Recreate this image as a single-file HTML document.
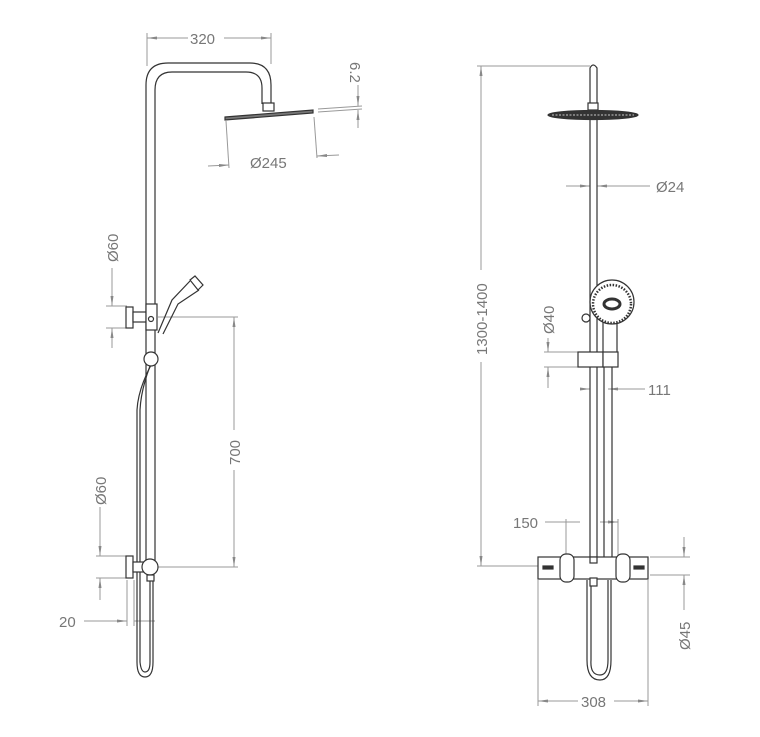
<!DOCTYPE html>
<html><head><style>body{margin:0;background:#fff}svg{display:block}text{font-family:"Liberation Sans",sans-serif;fill:#777;font-size:15px}</style></head>
<body>
<svg width="760" height="737" viewBox="0 0 760 737" xmlns="http://www.w3.org/2000/svg">
<defs><marker id="a" viewBox="0 0 10 6" refX="10" refY="3" markerWidth="10" markerHeight="6" orient="auto-start-reverse"><path d="M0,1.5L10,3L0,4.5z" fill="#888"/></marker></defs>
<g stroke="#999" stroke-width="1" fill="none">
<line x1="147" y1="33" x2="147" y2="66"/><line x1="271" y1="33" x2="271" y2="64"/>
<line x1="147" y1="38" x2="188" y2="38" marker-start="url(#a)"/><line x1="224" y1="38" x2="271" y2="38" marker-end="url(#a)"/>
<line x1="318" y1="109" x2="362" y2="106"/><line x1="318" y1="112" x2="362" y2="109"/>
<line x1="358" y1="85" x2="358" y2="106" marker-end="url(#a)"/><line x1="358" y1="128" x2="358" y2="110" marker-end="url(#a)"/>
<line x1="226" y1="121" x2="229" y2="168"/><line x1="314" y1="117" x2="317" y2="158"/>
<line x1="208" y1="166" x2="229" y2="165" marker-end="url(#a)"/><line x1="339" y1="155" x2="317" y2="156" marker-end="url(#a)"/>
<line x1="106" y1="306" x2="127" y2="306"/><line x1="106" y1="328" x2="127" y2="328"/>
<line x1="112" y1="268" x2="112" y2="306" marker-end="url(#a)"/><line x1="112" y1="348" x2="112" y2="328" marker-end="url(#a)"/>
<line x1="158" y1="317" x2="238" y2="317"/><line x1="158" y1="567" x2="238" y2="567"/>
<line x1="234" y1="430" x2="234" y2="317" marker-end="url(#a)"/><line x1="234" y1="470" x2="234" y2="567" marker-end="url(#a)"/>
<line x1="96" y1="556" x2="126" y2="556"/><line x1="96" y1="578" x2="126" y2="578"/>
<line x1="100" y1="507" x2="100" y2="556" marker-end="url(#a)"/><line x1="100" y1="600" x2="100" y2="578" marker-end="url(#a)"/>
<line x1="127" y1="580" x2="127" y2="626"/><line x1="134" y1="580" x2="134" y2="626"/>
<line x1="84" y1="621" x2="127" y2="621" marker-end="url(#a)"/><line x1="134" y1="621" x2="155" y2="621"/>
<line x1="477" y1="66" x2="590" y2="66"/><line x1="477" y1="566" x2="540" y2="566"/>
<line x1="481" y1="270" x2="481" y2="66" marker-end="url(#a)"/><line x1="481" y1="362" x2="481" y2="566" marker-end="url(#a)"/>
<line x1="566" y1="186" x2="590" y2="186" marker-end="url(#a)"/><line x1="650" y1="186" x2="597" y2="186" marker-end="url(#a)"/>
<line x1="544" y1="352" x2="580" y2="352"/><line x1="544" y1="367" x2="580" y2="367"/>
<line x1="548" y1="338" x2="548" y2="352" marker-end="url(#a)"/><line x1="548" y1="388" x2="548" y2="367" marker-end="url(#a)"/>
<line x1="580" y1="389" x2="590" y2="389" marker-end="url(#a)"/><line x1="645" y1="389" x2="608" y2="389" marker-end="url(#a)"/>
<line x1="566" y1="519" x2="566" y2="560"/><line x1="618" y1="519" x2="618" y2="560"/>
<line x1="545" y1="522" x2="580" y2="522"/><line x1="600" y1="522" x2="618" y2="522" marker-end="url(#a)"/>
<line x1="650" y1="557" x2="690" y2="557"/><line x1="650" y1="575" x2="690" y2="575"/>
<line x1="684" y1="537" x2="684" y2="557" marker-end="url(#a)"/><line x1="684" y1="610" x2="684" y2="575" marker-end="url(#a)"/>
<line x1="538" y1="580" x2="538" y2="706"/><line x1="648" y1="580" x2="648" y2="706"/>
<line x1="538" y1="701" x2="578" y2="701" marker-start="url(#a)"/><line x1="614" y1="701" x2="648" y2="701" marker-end="url(#a)"/>
</g>
<g fill="#777">
<text x="190" y="44">320</text>
<text transform="translate(350,62) rotate(90)">6.2</text>
<text x="250" y="168">Ø245</text>
<text transform="translate(118,262) rotate(-90)">Ø60</text>
<text transform="translate(240,465) rotate(-90)">700</text>
<text transform="translate(106,505) rotate(-90)">Ø60</text>
<text x="59" y="627">20</text>
<text transform="translate(487,355) rotate(-90)">1300-1400</text>
<text x="656" y="192">Ø24</text>
<text transform="translate(554,334) rotate(-90)">Ø40</text>
<text x="648" y="395">111</text>
<text x="513" y="528">150</text>
<text transform="translate(690,650) rotate(-90)">Ø45</text>
<text x="581" y="707">308</text>
</g>
<g stroke="#333" stroke-width="1.2" fill="#fff">
<path d="M146,570 V85 Q146,63 168,63 H250 Q271,63 271,85 V104" fill="none"/>
<path d="M155,570 V90 Q155,72 172,72 H246 Q262,72 262,88 V104" fill="none"/>
<rect x="263" y="103" width="11" height="8"/>
<path d="M225,117 L313,110 L313,113 L225,120 Z" fill="#777"/>
<path d="M151,365 Q138,390 137,410 V662 Q137,677 145,677 Q153,677 153,662 V580" fill="none"/>
<path d="M150,366 Q141,390 140,410 V662 Q141,672 145,672 Q150,672 150,662 V580" fill="none"/>
<path d="M158,333 L172,300 L190,281 M163,334 L178,304 L199,290" fill="none"/>
<path d="M190,280 L195,276 L203,285 L198,290 Z"/>
<rect x="126" y="307" width="7" height="21"/><rect x="133" y="312" width="13" height="10"/>
<rect x="146" y="304" width="11" height="26"/><circle cx="151" cy="319" r="2.5"/>
<circle cx="151" cy="359" r="7"/>
<rect x="126" y="556" width="7" height="22"/><rect x="133" y="562" width="12" height="10"/>
<circle cx="150" cy="567" r="8"/><rect x="147" y="575" width="7" height="6"/>
<path d="M590,570 V68 Q593,62 597,68 V570" fill="none"/>
<rect x="588" y="103" width="10" height="7"/>
<ellipse cx="593" cy="115" rx="45" ry="4.5" fill="#333"/>
<line x1="552" y1="115" x2="634" y2="115" stroke="#aaa" stroke-dasharray="2,1.5"/>
<path d="M604,320 V560 M612,320 V560 M608,580 V660 Q608,675 600,675 Q590,675 591,660 V580" fill="none"/>
<path d="M611,580 V660 Q611,680 600,680 Q587,680 587,660 V580" fill="none"/>
<rect x="603" y="322" width="14" height="40"/>
<circle cx="612" cy="302" r="22"/>
<circle cx="612" cy="304" r="19" stroke-dasharray="1.5,1.5" stroke-width="2.5"/>
<ellipse cx="612" cy="304" rx="8" ry="5" fill="#fff" stroke-width="3"/>
<circle cx="586" cy="318" r="4"/>
<rect x="578" y="352" width="25" height="15"/><rect x="603" y="352" width="15" height="15"/>
<rect x="538" y="557" width="110" height="22"/>
<rect x="560" y="554" width="14" height="28" rx="6"/><rect x="616" y="554" width="14" height="28" rx="6"/>
<rect x="590" y="557" width="7" height="6"/>
<rect x="590" y="578" width="7" height="8"/>
<rect x="543" y="566" width="10" height="3" fill="#333"/><rect x="634" y="566" width="10" height="3" fill="#333"/>
</g>
</svg>
</body></html>
